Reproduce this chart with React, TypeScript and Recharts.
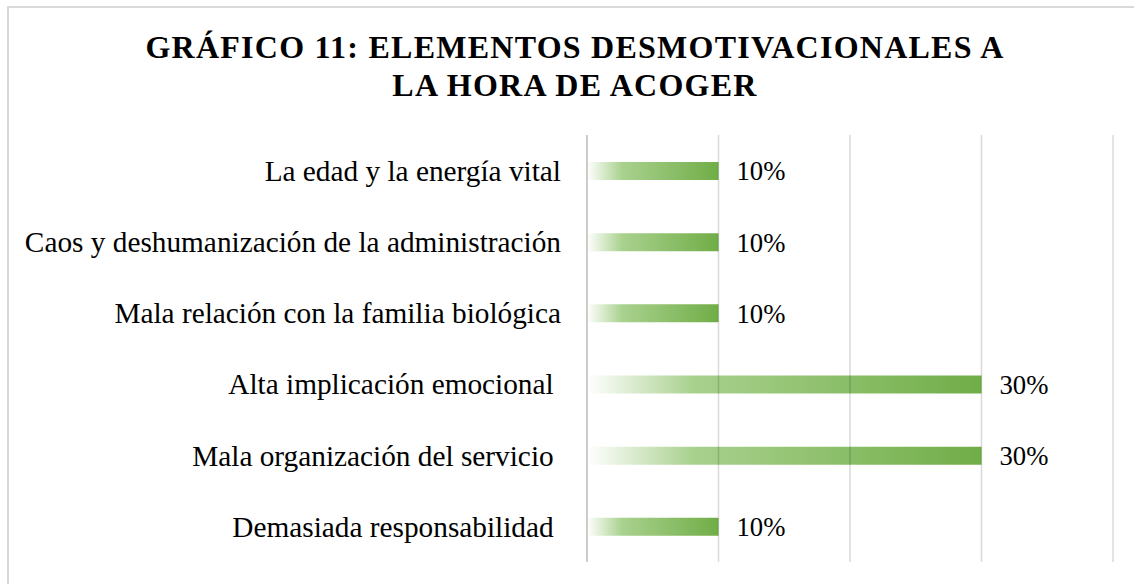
import React from 'react';
import { BarChart, Bar, XAxis, YAxis, ReferenceLine, LabelList } from 'recharts';

const categories = [
  'La edad y la energía vital',
  'Caos y deshumanización de la administración',
  'Mala relación con la familia biológica',
  'Alta implicación emocional ',
  'Mala organización del servicio ',
  'Demasiada responsabilidad ',
];
const values = [0.1, 0.1, 0.1, 0.3, 0.3, 0.1];
const xTicks = [0, 0.1, 0.2, 0.3, 0.4];
const titleLines = ['GRÁFICO 11: ELEMENTOS DESMOTIVACIONALES A', 'LA HORA DE ACOGER'];

const data = categories.map((name, i) => ({ name, value: values[i] }));

const FONT = '"Liberation Serif", "Times New Roman", serif';

const YTick = (props: any) => {
  const { x, y, payload } = props;
  return (
    <text
      x={x - 18}
      y={y}
      dy="0.35em"
      textAnchor="end"
      fill="#000"
      fontSize={29.3}
      fontFamily={FONT}
      style={{ whiteSpace: 'pre' }}
    >
      {payload.value}
    </text>
  );
};

export default function App() {
  return (
    <div style={{ position: 'fixed', left: 0, top: 0, width: 1134, height: 584, overflow: 'hidden', background: '#fff' }}>
      <div
        style={{
          position: 'absolute',
          left: 7,
          top: 6,
          width: 1200,
          height: 700,
          border: '2px solid #d9d9d9',
        }}
      />
      <div
        style={{
          position: 'absolute',
          left: 0,
          top: 28,
          width: 1150,
          textAlign: 'center',
          fontFamily: FONT,
          fontWeight: 'bold',
          fontSize: 32,
          letterSpacing: 1.25,
          lineHeight: '38px',
          color: '#000',
        }}
      >
        {titleLines.map((t) => (
          <div key={t}>{t}</div>
        ))}
      </div>
      <div style={{ position: 'absolute', left: 0, top: 0 }}>
        <BarChart
          width={1134}
          height={584}
          data={data}
          layout="vertical"
          margin={{ top: 135, right: 21, bottom: 22, left: 0 }}
          barCategoryGap={0}
        >
          <defs>
            <linearGradient id="barGrad" x1="0" y1="0" x2="1" y2="0">
              <stop offset="0" stopColor="#ffffff" />
              <stop offset="0.27" stopColor="#a9d18e" />
              <stop offset="1" stopColor="#70ad47" />
            </linearGradient>
          </defs>
          <XAxis
            type="number"
            domain={[0, 0.4]}
            ticks={xTicks}
            height={0}
            tick={false}
            axisLine={false}
            tickLine={false}
          />
          <YAxis
            type="category"
            dataKey="name"
            width={587}
            axisLine={false}
            tickLine={false}
            tick={<YTick />}
            interval={0}
          />
          <Bar dataKey="value" barSize={18} fill="url(#barGrad)" isAnimationActive={false}>
            <LabelList
              dataKey="value"
              position="right"
              offset={18}
              fill="#000"
              fontSize={26.7}
              fontFamily={FONT}
              formatter={(v: any) => `${Math.round(Number(v) * 100)}%`}
            />
          </Bar>
          {xTicks.map((t) => (
            <ReferenceLine
              key={t}
              x={t}
              stroke="#000"
              strokeOpacity={t === 0 ? 0.2 : 0.15}
              strokeWidth={t === 0 ? 2 : 1.5}
            />
          ))}
        </BarChart>
      </div>
    </div>
  );
}
